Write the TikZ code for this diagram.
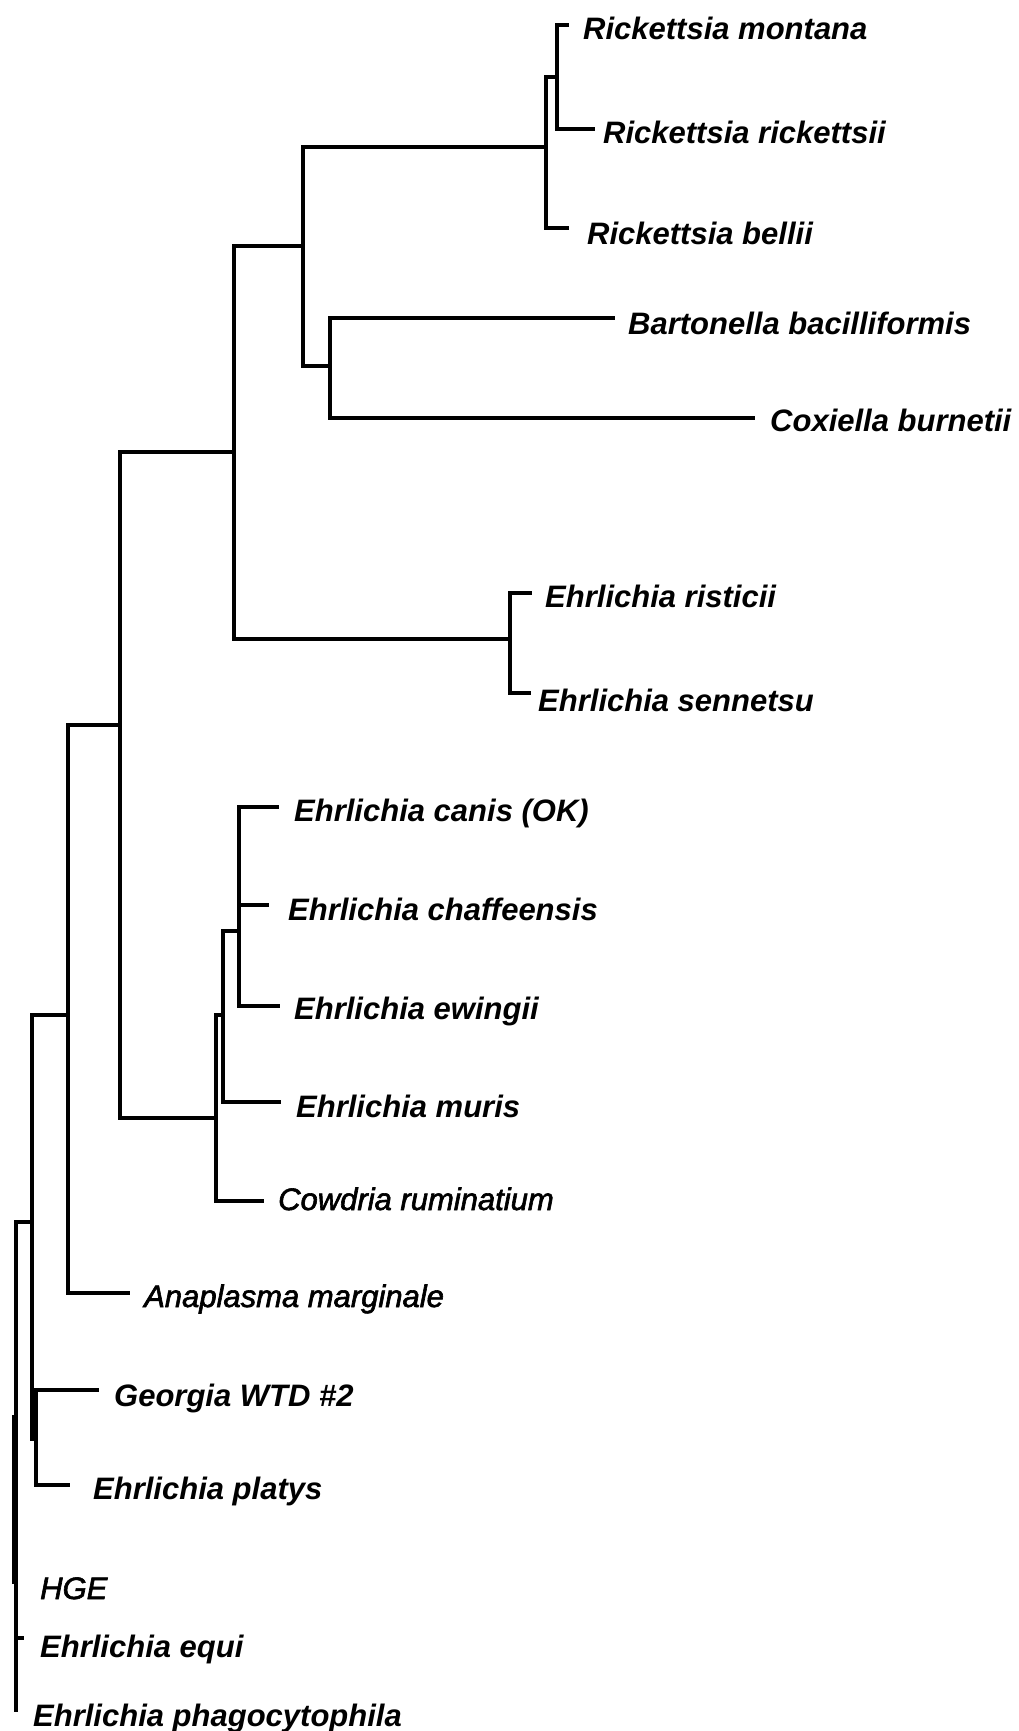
\documentclass[tikz,border=0pt]{standalone}
\usepackage{fontspec}
\setmainfont{Liberation Sans}
\newfontfamily\medfont{Liberation Sans}[FakeBold=2]
\begin{document}
\begin{tikzpicture}[x=1pt,y=-1pt,
  branch/.style={line width=3.1pt,line cap=rect,line join=miter},
  lab/.style={anchor=base west,inner sep=0pt,font=\fontsize{31}{31}\selectfont\bfseries\itshape},
  labr/.style={anchor=base west,inner sep=0pt,font=\fontsize{31}{31}\selectfont\medfont\itshape}]
\useasboundingbox (0,0) rectangle (1019,1731);
% internal nodes (x of vertical, y where parent attaches)
\coordinate (root) at (16,1222);
\coordinate (F0) at (32,1222);
\coordinate (GP) at (36,1439);
\coordinate (E) at (68,1015);
\coordinate (D) at (120,725);
\coordinate (H) at (216,1118);
\coordinate (G) at (223,1015);
\coordinate (F) at (239,931);
\coordinate (C) at (234,452);
\coordinate (RS) at (510,639);
\coordinate (A) at (303,246);
\coordinate (B) at (330,366);
\coordinate (R2) at (546,147);
\coordinate (R1) at (557,77);
% leaf ends
\coordinate (lmon) at (567,25);
\coordinate (lric) at (593,129);
\coordinate (lbel) at (567,228);
\coordinate (lbar) at (613,318);
\coordinate (lcox) at (753,418);
\coordinate (lris) at (530,593);
\coordinate (lsen) at (529,693);
\coordinate (lcan) at (277,807);
\coordinate (lcha) at (267,905);
\coordinate (lewi) at (278,1006);
\coordinate (lmur) at (279,1102);
\coordinate (lcow) at (262,1201);
\coordinate (lana) at (128,1293);
\coordinate (lgeo) at (97,1390);
\coordinate (lpla) at (68,1485);
\coordinate (hgetop) at (13.5,1417);
\coordinate (lhge) at (13.5,1582);
\coordinate (lequ) at (22,1638);
\coordinate (lpha) at (16,1710);
% labels
\node[lab] (nmon) at (583,40) {Rickettsia montana};
\node[lab] (nric) at (603,144) {Rickettsia rickettsii};
\node[lab] (nbel) at (587,244) {Rickettsia bellii};
\node[lab] (nbar) at (628,334) {Bartonella bacilliformis};
\node[lab] (ncox) at (770,431) {Coxiella burnetii};
\node[lab] (nris) at (545,607) {Ehrlichia risticii};
\node[lab] (nsen) at (538,711) {Ehrlichia sennetsu};
\node[lab] (ncan) at (294,821) {Ehrlichia canis (OK)};
\node[lab] (ncha) at (288,920) {Ehrlichia chaffeensis};
\node[lab] (newi) at (294,1019) {Ehrlichia ewingii};
\node[lab] (nmur) at (296,1117) {Ehrlichia muris};
\node[labr] (ncow) at (278,1210) {Cowdria ruminatium};
\node[labr] (nana) at (144,1307) {Anaplasma marginale};
\node[lab] (ngeo) at (114,1406) {Georgia WTD \#2};
\node[lab] (npla) at (93,1499) {Ehrlichia platys};
\node[labr] (nhge) at (40,1599) {HGE};
\node[lab] (nequ) at (40,1657) {Ehrlichia equi};
\node[lab] (npha) at (33,1726) {Ehrlichia phagocytophila};
% branches
\draw[branch] (root) |- (F0);
\draw[branch] (root) |- (lpha);
\draw[branch] (root) |- (lequ);
\draw[branch] (hgetop) -- (lhge);
\draw[branch] (F0) |- (E);
\draw[branch] (F0) |- (GP);
\draw[branch] (GP) |- (lgeo);
\draw[branch] (GP) |- (lpla);
\draw[branch] (E) |- (D);
\draw[branch] (E) |- (lana);
\draw[branch] (D) |- (C);
\draw[branch] (D) |- (H);
\draw[branch] (H) |- (G);
\draw[branch] (H) |- (lcow);
\draw[branch] (G) |- (F);
\draw[branch] (G) |- (lmur);
\draw[branch] (F) |- (lcan);
\draw[branch] (F) |- (lcha);
\draw[branch] (F) |- (lewi);
\draw[branch] (C) |- (A);
\draw[branch] (C) |- (RS);
\draw[branch] (RS) |- (lris);
\draw[branch] (RS) |- (lsen);
\draw[branch] (A) |- (R2);
\draw[branch] (A) |- (B);
\draw[branch] (B) |- (lbar);
\draw[branch] (B) |- (lcox);
\draw[branch] (R2) |- (R1);
\draw[branch] (R2) |- (lbel);
\draw[branch] (R1) |- (lmon);
\draw[branch] (R1) |- (lric);
\end{tikzpicture}
\end{document}
